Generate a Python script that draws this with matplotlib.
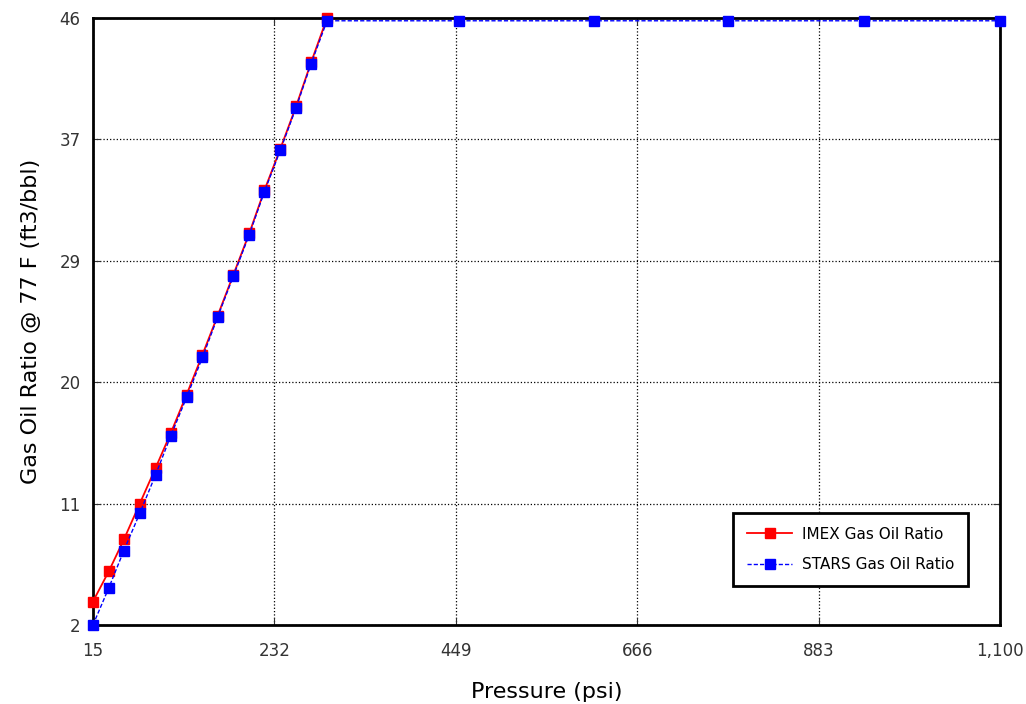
import matplotlib.pyplot as plt
import numpy as np

# pressure (psi)
imex_p = [15, 34, 52, 71, 90, 108, 127, 146, 164, 183, 202, 220, 239, 258, 276, 295]
imex_gor = [3.7, 5.9, 8.2, 10.8, 13.4, 15.9, 18.7, 21.6, 24.4, 27.4, 30.4, 33.5, 36.5, 39.6, 42.8, 46.0]

stars_p = [15, 34, 52, 71, 90, 108, 127, 146, 164, 183, 202, 220, 239, 258, 276, 295,
           453, 614, 775, 937, 1100]
stars_gor = [2.0, 4.7, 7.4, 10.1, 12.9, 15.7, 18.5, 21.4, 24.3, 27.3, 30.3, 33.4, 36.4, 39.5, 42.7, 45.8,
             45.8, 45.8, 45.8, 45.8, 45.8]

x_ticks = [15, 232, 449, 666, 883, 1100]
x_labels = ['15', '232', '449', '666', '883', '1,100']
y_labels = ['2', '11', '20', '29', '37', '46']

fig = plt.figure(figsize=(10.26, 7.04), dpi=100)
ax = fig.add_axes([0.0906, 0.1122, 0.8841, 0.8622])

ax.plot(imex_p, imex_gor, color='red', lw=1.3, marker='s', ms=7, label='IMEX Gas Oil Ratio',
        clip_on=False, zorder=3)
ax.plot(stars_p, stars_gor, color='blue', lw=1.0, ls='--', dashes=(3, 1.5), marker='s', ms=7,
        label='STARS Gas Oil Ratio', clip_on=False, zorder=4)

ax.set_xlim(15, 1100)
ax.set_ylim(2, 46)
ax.set_xticks(x_ticks)
ax.set_xticklabels(x_labels)
ax.set_yticks(np.linspace(2, 46, 6))
ax.set_yticklabels(y_labels)
ax.tick_params(direction='in', top=True, right=True, labelsize=12, colors='#333333', length=5)
ax.tick_params(axis='x', pad=12)
ax.tick_params(axis='y', pad=9)
ax.grid(True, linestyle=':', color='black', lw=0.9)
for s in ax.spines.values():
    s.set_linewidth(2)
    s.set_color('black')

ax.set_xlabel('Pressure (psi)', fontsize=16, labelpad=16)
ax.set_ylabel('Gas Oil Ratio @ 77 F (ft3/bbl)', fontsize=16, labelpad=13)

leg = ax.legend(loc='lower left', bbox_to_anchor=(0.697, 0.052),
                fancybox=False, edgecolor='black', fontsize=11, handlelength=3.0,
                handletextpad=0.6, borderpad=0.9, labelspacing=1.0, framealpha=1)
leg.get_frame().set_linewidth(2)

plt.savefig('out.png')
